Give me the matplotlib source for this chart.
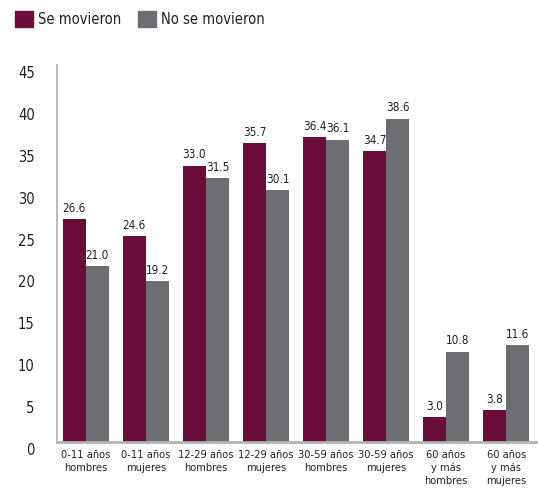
import matplotlib
matplotlib.use("Agg")
import matplotlib.pyplot as plt
import matplotlib.transforms as mtransforms
from matplotlib.patches import Patch
import numpy as np

# Data
categories = ["0-11 años\nhombres", "0-11 años\nmujeres", "12-29 años\nhombres",
              "12-29 años\nmujeres", "30-59 años\nhombres", "30-59 años\nmujeres",
              "60 años\ny más\nhombres", "60 años\ny más\nmujeres"]
se_movieron = [26.6, 24.6, 33.0, 35.7, 36.4, 34.7, 3.0, 3.8]
no_se_movieron = [21.0, 19.2, 31.5, 30.1, 36.1, 38.6, 10.8, 11.6]
series_names = ["Se movieron", "No se movieron"]
y_ticks = [0, 5, 10, 15, 20, 25, 30, 35, 40, 45]

maroon = "#6a0d38"
grey = "#6d6e71"
text_col = "#231f20"

plt.rcParams["font.family"] = ["DejaVu Sans"]
plt.rcParams["font.stretch"] = "condensed"

fig = plt.figure(figsize=(5.38, 4.94), dpi=100)
W, H = 538, 494
ax = fig.add_axes([57 / W, (H - 442) / H, (538 - 57) / W, (442 - 65) / H])

x = np.arange(len(categories))
bw = 0.385
b1 = ax.bar(x - bw / 2, se_movieron, bw, color=maroon)
b2 = ax.bar(x + bw / 2, no_se_movieron, bw, color=grey)
for bars in (b1, b2):
    ax.bar_label(bars, labels=[f"{v:.1f}" for v in bars.datavalues],
                 padding=3, fontsize=8.4, color=text_col)

ax.set_xlim(-0.48, 7.53)
ax.set_ylim(0, 44.9)
ax.set_yticks(y_ticks)
ax.set_xticks(x)
ax.set_xticklabels(categories, fontsize=7.9, color=text_col, linespacing=1.3)
ax.tick_params(axis="y", length=0, pad=16, labelsize=10.5, labelcolor=text_col)
ax.tick_params(axis="x", length=0, pad=6)

# the reference prints the y numbers a bit lower than their gridline
shift = mtransforms.ScaledTranslation(0, -7 / 100, fig.dpi_scale_trans)
for lab in ax.get_yticklabels():
    lab.set_transform(lab.get_transform() + shift)

for s in ("top", "right"):
    ax.spines[s].set_visible(False)
ax.spines["left"].set_color("#bdbdbd")
ax.spines["left"].set_linewidth(1.5)
ax.spines["bottom"].set_color("#b3b3b3")
ax.spines["bottom"].set_linewidth(2)

handles = [Patch(color=maroon), Patch(color=grey)]
fig.legend(handles, series_names, loc="upper left", bbox_to_anchor=(2 / W, 1 + 2 / H),
           ncol=2, frameon=False, fontsize=10.5, handlelength=1.25, handleheight=1.25,
           handletextpad=0.35, columnspacing=1.1, labelcolor=text_col)

fig.savefig("out.png", dpi=100)
